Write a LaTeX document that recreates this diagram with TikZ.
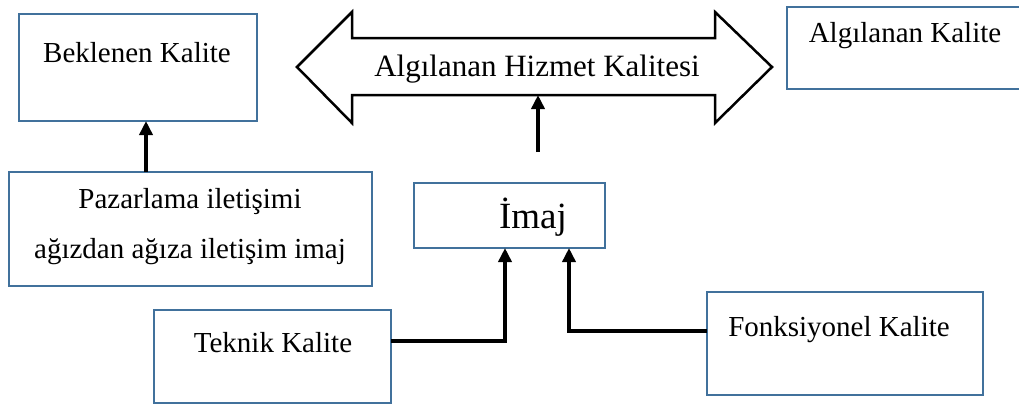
\documentclass[tikz,border=0pt]{standalone}
\usepackage{fontspec}
\setmainfont{Liberation Serif}
\usetikzlibrary{arrows.meta,calc}
\definecolor{boxblue}{RGB}{65,113,156}
\tikzset{
  qbox/.style={draw=boxblue, line width=2.5pt, inner sep=0pt, outer sep=0pt, fill=white},
  txt/.style={inner sep=0pt, font=\fontsize{29}{35}\selectfont},
  conn/.style={line width=4pt, -{Triangle[width=13pt,length=14pt]}},
  bigarrow/.style={draw=black, line width=2.5pt, line join=miter, fill=white}
}
\begin{document}
\begin{tikzpicture}[x=1pt,y=-1pt]
  \useasboundingbox (0,0) rectangle (1019,405);

  % quality boxes
  \node[qbox, minimum width=238pt, minimum height=107pt] (bek) at (138,67.5) {};
  \node[qbox, minimum width=240pt, minimum height=82pt] (alg) at (907,48) {};
  \node[qbox, minimum width=363pt, minimum height=114pt] (paz) at (190.5,229) {};
  \node[qbox, minimum width=191pt, minimum height=65pt] (imaj) at (509.5,215.5) {};
  \node[qbox, minimum width=237pt, minimum height=93pt] (tek) at (272.5,356.5) {};
  \node[qbox, minimum width=276pt, minimum height=103pt] (fon) at (845,343.5) {};

  % labels
  \node[txt] (bekT) at (137,53) {Beklenen Kalite};
  \node[txt] (algT) at (905,36) {Algılanan Kalite};
  \node[txt] (pazT1) at (190,202) {Pazarlama iletişimi};
  \node[txt] (pazT2) at (190,252) {ağızdan ağıza iletişim imaj};
  \node[inner sep=0pt, font=\fontsize{37}{42}\selectfont] (imajT) at (533,217) {İmaj};
  \node[txt] (tekT) at (273,343) {Teknik Kalite};
  \node[txt] (fonT) at (839,330) {Fonksiyonel Kalite};

  % double-headed block arrow
  \draw[bigarrow] (297,67) -- (352,12) -- (352,38) -- (715,38) -- (715,12)
    -- (772,67) -- (715,123) -- (715,95) -- (352,95) -- (352,123) -- cycle;
  \node[inner sep=0pt, font=\fontsize{31}{36}\selectfont] (hiz) at (537,69) {Algılanan Hizmet Kalitesi};
  \coordinate (hizBase) at (538,95);
  \coordinate (hizFeed) at (538,152);

  % connectors
  \draw[conn] (paz.north -| 146,0) -- (bek.south -| 146,0);
  \draw[conn] (hizFeed) -- (hizBase);
  \draw[conn] (tek.east |- 0,341) -| (imaj.south -| 505,0);
  \draw[conn] (fon.west |- 0,331) -| (imaj.south -| 569,0);
\end{tikzpicture}
\end{document}
